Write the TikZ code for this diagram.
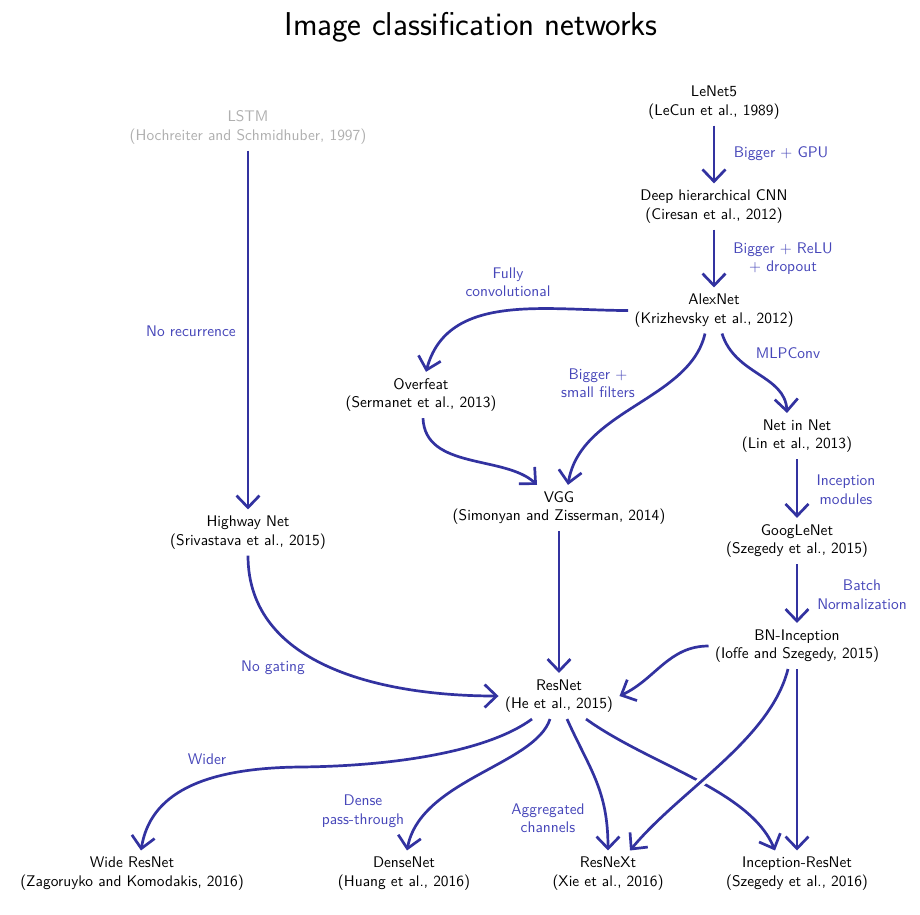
\documentclass[tikz,border=0pt]{standalone}
\usepackage{fontspec}
\newfontfamily\sansten{lmsans10-regular.otf}
\usetikzlibrary{arrows.meta}
\definecolor{arr}{RGB}{50,50,160}
\definecolor{lab}{RGB}{70,70,185}
\definecolor{old}{RGB}{175,175,175}
\begin{document}
\begin{tikzpicture}[x=1pt,y=1pt,
  net/.style={align=center, inner sep=6.5pt, outer sep=0pt, font=\sansten\fontsize{15.4}{18.5}\selectfont, text=black},
  lbl/.style={align=center, inner sep=0pt, font=\sansten\fontsize{15.4}{18.5}\selectfont, text=lab},
  conn/.style={draw=arr, line width=2.7pt, -{Straight Barb[length=12pt,width=23pt]}},
]
\useasboundingbox (0,0) rectangle (920,-914);
\node[font=\sffamily\fontsize{33}{38}\selectfont, anchor=base] (title) at (471,-35) {Image classification networks};

\node[net] (lenet) at (714,-102.5) {LeNet5\\(LeCun et al., 1989)};
\node[net] (deep) at (714,-206.5) {Deep hierarchical CNN\\(Ciresan et al., 2012)};
\node[net] (alex) at (714,-310.5) {AlexNet\\(Krizhevsky et al., 2012)};
\node[net, text=old] (lstm) at (248,-127.5) {LSTM\\(Hochreiter and Schmidhuber, 1997)};
\node[net] (over) at (421,-395) {Overfeat\\(Sermanet et al., 2013)};
\node[net] (vgg) at (559,-508) {VGG\\(Simonyan and Zisserman, 2014)};
\node[net] (nin) at (797,-436) {Net in Net\\(Lin et al., 2013)};
\node[net] (goog) at (797,-541) {GoogLeNet\\(Szegedy et al., 2015)};
\node[net] (bn) at (797,-646) {BN-Inception\\(Ioffe and Szegedy, 2015)};
\node[net] (highway) at (248,-532.5) {Highway Net\\(Srivastava et al., 2015)};
\node[net] (resnet) at (559,-696) {ResNet\\(He et al., 2015)};
\node[net] (wide) at (132,-873.5) {Wide ResNet\\(Zagoruyko and Komodakis, 2016)};
\node[net] (dense) at (404,-873.5) {DenseNet\\(Huang et al., 2016)};
\node[net] (resnext) at (608,-873.5) {ResNeXt\\(Xie et al., 2016)};
\node[net] (irn) at (797,-873.5) {Inception-ResNet\\(Szegedy et al., 2016)};

\node[lbl] (l1) at (781,-154) {Bigger + GPU};
\node[lbl] (l2) at (783,-258.5) {Bigger + ReLU\\+ dropout};
\node[lbl] (l3) at (508,-282) {Fully\\convolutional};
\node[lbl] (l4) at (598,-383) {Bigger +\\small filters};
\node[lbl] (l5) at (788,-353) {MLPConv};
\node[lbl] (l6) at (846,-489.5) {Inception\\modules};
\node[lbl] (l7) at (862,-594.5) {Batch\\Normalization};
\node[lbl] (l8) at (191,-331) {No recurrence};
\node[lbl] (l9) at (273,-668) {No gating};
\node[lbl] (l10) at (207,-759) {Wider};
\node[lbl] (l11) at (363,-811) {Dense\\pass-through};
\node[lbl] (l12) at (548,-818) {Aggregated\\channels};

\coordinate (wbend) at (300,-767);

\draw[conn] (lenet) -- (deep);
\draw[conn] (deep) -- (alex);
\draw[conn] (lstm) -- (highway);
\draw[conn] (nin) -- (goog);
\draw[conn] (goog) -- (bn);
\draw[conn] (vgg) -- (resnet);
\draw[conn] (bn) -- (irn);
\draw[conn] (alex.west) to[out=180,in=75] ([xshift=5pt]over.north);
\draw[conn] ([xshift=-9pt]alex.south) .. controls (690,-400) and (580,-410) .. ([xshift=9pt]vgg.north);
\draw[conn] ([xshift=8pt]alex.south) .. controls (735,-375) and (785,-375) .. ([xshift=-10pt]nin.north);
\draw[conn] ([xshift=2pt]over.south) .. controls (425,-470) and (505,-455) .. ([xshift=-22pt]vgg.north);
\draw[conn] (highway.south) to[out=-90,in=180] (resnet.west);
\draw[conn] (bn.west) to[out=180,in=25] (resnet.east);
\draw[conn] ([xshift=-27pt]resnet.south) .. controls (490,-750) and (400,-766) .. (wbend) .. controls (200,-768) and (150,-795) .. ([xshift=9pt]wide.north);
\draw[conn] ([xshift=-9pt]resnet.south) .. controls (535,-765) and (420,-780) .. ([xshift=3pt]dense.north);
\draw[conn] ([xshift=8pt]resnet.south) .. controls (590,-770) and (608,-790) .. (resnext.north);
\draw[conn] ([xshift=27pt]resnet.south) .. controls (650,-765) and (750,-790) .. ([xshift=-22pt]irn.north);
\draw[conn, preaction={draw=white, line width=9pt, -}] ([xshift=-9pt]bn.south) .. controls (770,-740) and (680,-790) .. ([xshift=22pt]resnext.north);
\end{tikzpicture}
\end{document}
